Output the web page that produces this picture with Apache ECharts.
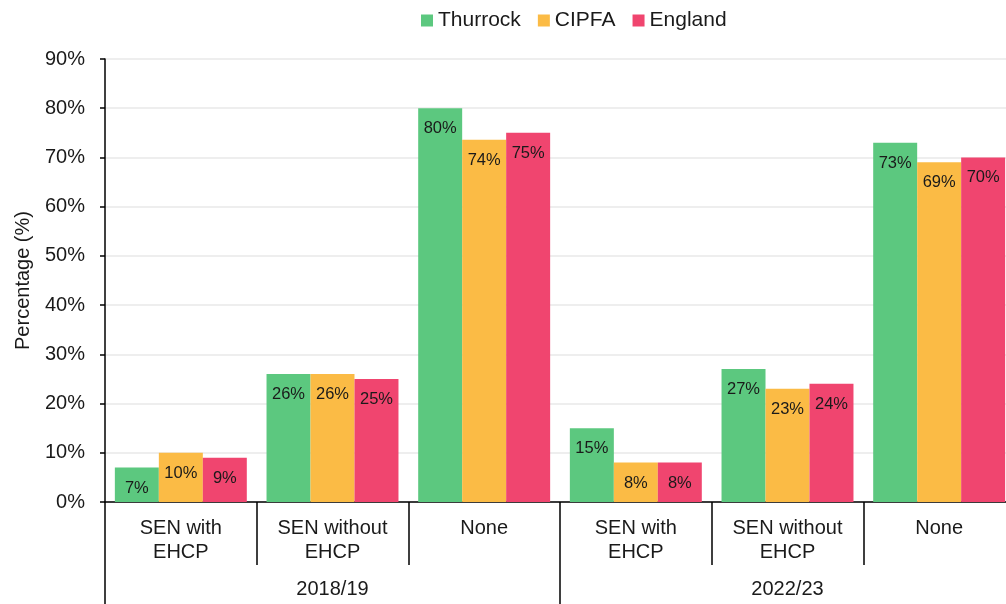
<!DOCTYPE html>
<html>
<head>
<meta charset="utf-8">
<script src="https://cdn.jsdelivr.net/npm/echarts@6/dist/echarts.min.js"></script>
<style>
  html, body { margin: 0; padding: 0; background: #fff; }
  #chart { width: 1006px; height: 604px; }
</style>
</head>
<body>
<div id="chart"></div>
<script>
// data
var categories = ['SEN with EHCP', 'SEN without EHCP', 'None', 'SEN with EHCP', 'SEN without EHCP', 'None'];
var periods = ['2018/19', '2022/23'];
var thurrock = [7, 26, 80, 15, 27, 73];
var cipfa = [10, 26, 73.6, 8, 23, 69];
var england = [9, 25, 75, 8, 24, 70];
var yTicks = [0, 10, 20, 30, 40, 50, 60, 70, 80, 90];

var font = 'Liberation Sans, Arial, sans-serif';

// initialize echarts
var myChart = echarts.init(document.getElementById('chart'));

function barSeries(name, values, color) {
    return {
        name: name,
        type: 'bar',
        data: values,
        barGap: 0,
        barCategoryGap: '13%',
        itemStyle: { color: color },
        label: {
            show: true,
            position: 'insideTop',
            distance: 12,
            color: '#1a1a1a',
            fontFamily: font,
            fontSize: 16.5,
            formatter: function (p) { return Math.round(p.value) + '%'; }
        }
    };
}

var option = {
    animation: false,
    textStyle: { fontFamily: font },
    legend: {
        top: 5,
        left: 416,
        itemWidth: 12,
        itemHeight: 12,
        itemGap: 17,
        icon: 'rect',
        textStyle: { fontSize: 21, color: '#1a1a1a', fontFamily: font },
        data: ['Thurrock', 'CIPFA', 'England']
    },
    grid: { left: 105, top: 59, width: 910, bottom: 102, containLabel: false, outerBoundsMode: 'none' },
    xAxis: [
        {
            type: 'category',
            data: categories,
            axisLine: { lineStyle: { color: '#000', width: 1.5 } },
            axisTick: { show: true, interval: 0, length: 63, lineStyle: { color: '#000', width: 1.5 } },
            axisLabel: {
                interval: 0,
                margin: 14,
                fontSize: 20,
                lineHeight: 24,
                color: '#1a1a1a',
                fontFamily: font,
                formatter: function (v) { return v.replace(' EHCP', '\nEHCP'); }
            }
        },
        {
            type: 'category',
            data: periods,
            position: 'bottom',
            axisLine: { show: false },
            axisTick: { show: true, interval: 0, length: 102, lineStyle: { color: '#000', width: 1.5 } },
            axisLabel: { margin: 77, fontSize: 20, color: '#1a1a1a', fontFamily: font }
        }
    ],
    yAxis: {
        type: 'value',
        min: yTicks[0],
        max: yTicks[yTicks.length - 1],
        interval: 10,
        name: 'Percentage (%)',
        nameLocation: 'middle',
        nameGap: 72,
        nameTextStyle: { fontSize: 20, color: '#1a1a1a', fontFamily: font },
        axisLine: { show: true, lineStyle: { color: '#000', width: 1.5 } },
        axisTick: { show: true, length: 5, lineStyle: { color: '#000', width: 1.5 } },
        axisLabel: { fontSize: 20, color: '#1a1a1a', margin: 20, fontFamily: font, formatter: '{value}%' },
        splitLine: { lineStyle: { color: '#e9e9e9', width: 1.5 } }
    },
    series: [
        barSeries('Thurrock', thurrock, '#5cc87f'),
        barSeries('CIPFA', cipfa, '#fbbb45'),
        barSeries('England', england, '#f0456f')
    ]
};

myChart.setOption(option);
</script>
</body>
</html>
